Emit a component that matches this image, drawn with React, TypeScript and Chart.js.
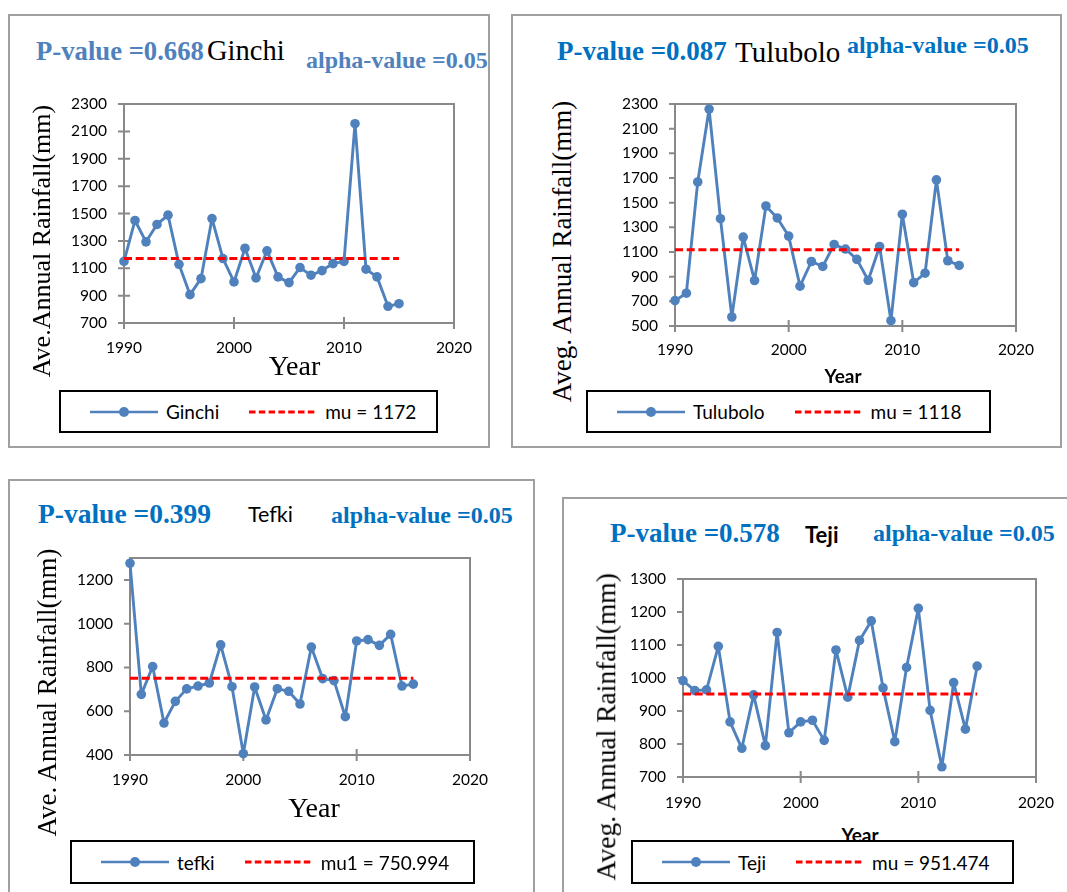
import React, { useEffect, useRef } from "react";
import { Chart, registerables } from "chart.js";

Chart.register(...registerables);

// ---- data -----------------------------------------------------------------

const YEARS = [
  1990, 1991, 1992, 1993, 1994, 1995, 1996, 1997, 1998, 1999, 2000, 2001, 2002,
  2003, 2004, 2005, 2006, 2007, 2008, 2009, 2010, 2011, 2012, 2013, 2014, 2015,
];

const GINCHI_RAIN = [
  1150, 1449, 1293, 1420, 1488, 1129, 907, 1024, 1463, 1171, 1000, 1246, 1029,
  1227, 1037, 995, 1105, 1049, 1083, 1134, 1150, 2156, 1093, 1037, 822, 841,
];
const TULUBOLO_RAIN = [
  706, 766, 1668, 2259, 1370, 573, 1221, 869, 1473, 1376, 1229, 823, 1023, 983,
  1161, 1124, 1040, 871, 1145, 543, 1406, 852, 928, 1685, 1029, 991,
];
const TEFKI_RAIN = [
  1276, 677, 804, 546, 645, 702, 715, 729, 903, 712, 406, 711, 560, 703, 691,
  633, 893, 749, 740, 575, 921, 927, 901, 951, 715, 724,
];
const TEJI_RAIN = [
  992, 962, 964, 1096, 867, 787, 949, 795, 1138, 834, 867, 872, 811, 1085, 942,
  1114, 1173, 970, 807, 1032, 1211, 902, 731, 986, 845, 1036,
];

const MU_GINCHI = 1172;
const MU_TULUBOLO = 1118;
const MU_TEFKI = 750.994;
const MU_TEJI = 951.474;

const X_TICKS = [1990, 2000, 2010, 2020];
const Y_TICKS_GINCHI = [700, 900, 1100, 1300, 1500, 1700, 1900, 2100, 2300];
const Y_TICKS_TULUBOLO = [500, 700, 900, 1100, 1300, 1500, 1700, 1900, 2100, 2300];
const Y_TICKS_TEFKI = [400, 600, 800, 1000, 1200];
const Y_TICKS_TEJI = [700, 800, 900, 1000, 1100, 1200, 1300];

// ---- styling --------------------------------------------------------------

const SERIF = '"Liberation Serif", "Times New Roman", Times, serif';
const SANS = 'Lato, "Open Sans", Arial, sans-serif';
const SERIES_BLUE = "#4f81bd";
const MEAN_RED = "#ff0000";
const AXIS_GRAY = "#898989";
const HEAD_BLUE_SOFT = "#4f81bd";
const HEAD_BLUE = "#0070c0";

const Y_AXIS_W = 70;
const PAD_T = 32;
const PAD_R = 48;
const X_AXIS_H = 45;
const TICK_FONT = 15.5;

type Station = {
  name: string;
  values: number[];
  mu: number;
  meanLabel: string;
  yMin: number;
  yMax: number;
  yTicks: number[];
};

type HeadText = {
  text: string;
  x: number;
  base: number;
  size: number;
  bold?: boolean;
  color?: string;
  sans?: boolean;
};

type Panel = {
  station: Station;
  box: [number, number, number, number];
  plot: { L: number; R: number; T: number; B: number };
  labelGap: number;
  yCross: boolean;
  headers: HeadText[];
  xTitle: { cx: number; cy: number; size: number; sans: boolean; bold: boolean };
  yTitle: { text: string; cx: number; cy: number; size: number };
  legend: [number, number, number, number];
};

const PANELS: Panel[] = [
  {
    station: {
      name: "Ginchi",
      values: GINCHI_RAIN,
      mu: MU_GINCHI,
      meanLabel: "mu = 1172",
      yMin: 700,
      yMax: 2300,
      yTicks: Y_TICKS_GINCHI,
    },
    box: [8, 14, 490, 448],
    plot: { L: 124, R: 454, T: 104, B: 323 },
    labelGap: 24.5,
    yCross: true,
    headers: [
      { text: "P-value =0.668", x: 36, base: 60, size: 26.7, bold: true, color: HEAD_BLUE_SOFT },
      { text: "Ginchi", x: 207, base: 61, size: 28.5 },
      { text: "alpha-value =0.05", x: 306, base: 68, size: 24, bold: true, color: HEAD_BLUE_SOFT },
    ],
    xTitle: { cx: 294.5, cy: 366, size: 28, sans: false, bold: false },
    yTitle: { text: "Ave.Annual Rainfall(mm)", cx: 42, cy: 241, size: 26 },
    legend: [59, 390, 438, 433],
  },
  {
    station: {
      name: "Tulubolo",
      values: TULUBOLO_RAIN,
      mu: MU_TULUBOLO,
      meanLabel: "mu = 1118",
      yMin: 500,
      yMax: 2300,
      yTicks: Y_TICKS_TULUBOLO,
    },
    box: [511, 14, 1062, 448],
    plot: { L: 675, R: 1016, T: 104, B: 326 },
    labelGap: 24,
    yCross: false,
    headers: [
      { text: "P-value =0.087", x: 557, base: 61, size: 27, bold: true, color: HEAD_BLUE },
      { text: "Tulubolo", x: 735, base: 62, size: 29 },
      { text: "alpha-value =0.05", x: 847, base: 53, size: 24, bold: true, color: HEAD_BLUE },
    ],
    xTitle: { cx: 843, cy: 375.5, size: 19, sans: true, bold: true },
    yTitle: { text: "Aveg. Annual Rainfall(mm)", cx: 562, cy: 251, size: 27 },
    legend: [586, 390, 991, 433],
  },
  {
    station: {
      name: "tefki",
      values: TEFKI_RAIN,
      mu: MU_TEFKI,
      meanLabel: "mu1 = 750.994",
      yMin: 400,
      yMax: 1300,
      yTicks: Y_TICKS_TEFKI,
    },
    box: [8, 479, 535, 905],
    plot: { L: 130, R: 470, T: 558, B: 755 },
    labelGap: 24.7,
    yCross: false,
    headers: [
      { text: "P-value =0.399", x: 38, base: 523, size: 27.5, bold: true, color: HEAD_BLUE },
      { text: "Tefki", x: 248, base: 523, size: 21.5, sans: true },
      { text: "alpha-value =0.05", x: 331, base: 523, size: 24, bold: true, color: HEAD_BLUE },
    ],
    xTitle: { cx: 314, cy: 807.5, size: 28, sans: false, bold: false },
    yTitle: { text: "Ave. Annual Rainfall(mm)", cx: 47, cy: 692, size: 27 },
    legend: [70, 840, 475, 884],
  },
  {
    station: {
      name: "Teji",
      values: TEJI_RAIN,
      mu: MU_TEJI,
      meanLabel: "mu = 951.474",
      yMin: 700,
      yMax: 1300,
      yTicks: Y_TICKS_TEJI,
    },
    box: [562, 497, 1080, 905],
    plot: { L: 683, R: 1036, T: 579, B: 777 },
    labelGap: 25.8,
    yCross: false,
    headers: [
      { text: "P-value =0.578", x: 610, base: 543, size: 27, bold: true, color: HEAD_BLUE },
      { text: "Teji", x: 805, base: 543, size: 22, sans: true, bold: true },
      { text: "alpha-value =0.05", x: 873, base: 541, size: 24, bold: true, color: HEAD_BLUE },
    ],
    xTitle: { cx: 860, cy: 834.5, size: 19, sans: true, bold: true },
    yTitle: { text: "Aveg. Annual Rainfall(mm)", cx: 606, cy: 727, size: 27.5 },
    legend: [631, 840, 1014, 884],
  },
];

// Plot frame with Excel-like tick marks, drawn from the chart's own scales.
const framePlugin = {
  id: "frame",
  beforeDatasetsDraw(chart: any, _args: unknown, opts: { yCross?: boolean }) {
    const { ctx, chartArea: a } = chart;
    const xs = chart.scales.x;
    const ys = chart.scales.y;
    ctx.save();
    ctx.strokeStyle = AXIS_GRAY;
    ctx.lineWidth = 2;
    ctx.strokeRect(a.left, a.top, a.right - a.left, a.bottom - a.top);
    ctx.beginPath();
    for (const t of xs.ticks) {
      const px = xs.getPixelForValue(t.value);
      ctx.moveTo(px, a.bottom - 6);
      ctx.lineTo(px, a.bottom + 6);
    }
    for (const t of ys.ticks) {
      const py = ys.getPixelForValue(t.value);
      ctx.moveTo(a.left - 6, py);
      ctx.lineTo(a.left + (opts && opts.yCross ? 6 : 0), py);
    }
    ctx.stroke();
    ctx.restore();
  },
};

function RainChart({ panel }: { panel: Panel }) {
  const ref = useRef<HTMLCanvasElement | null>(null);
  const { plot, station } = panel;
  const width = Y_AXIS_W + (plot.R - plot.L) + PAD_R;
  const height = PAD_T + (plot.B - plot.T) + X_AXIS_H;

  useEffect(() => {
    if (!ref.current) return;
    const lh = TICK_FONT * 1.2;
    const chart = new Chart(ref.current, {
      type: "line",
      data: {
        datasets: [
          {
            label: station.meanLabel,
            data: [
              { x: YEARS[0], y: station.mu },
              { x: YEARS[YEARS.length - 1], y: station.mu },
            ],
            borderColor: MEAN_RED,
            backgroundColor: MEAN_RED,
            borderWidth: 3,
            borderDash: [8, 3.7],
            pointRadius: 0,
            fill: false,
            clip: false,
          },
          {
            label: station.name,
            data: YEARS.map((x, i) => ({ x, y: station.values[i] })),
            borderColor: SERIES_BLUE,
            backgroundColor: SERIES_BLUE,
            pointBackgroundColor: SERIES_BLUE,
            pointBorderColor: SERIES_BLUE,
            borderWidth: 2.9,
            borderJoinStyle: "round",
            borderCapStyle: "round",
            pointRadius: 4.8,
            pointBorderWidth: 0,
            tension: 0,
            fill: false,
            clip: false,
          },
        ],
      },
      options: {
        responsive: false,
        animation: false,
        devicePixelRatio: 1,
        events: [],
        layout: { padding: { top: PAD_T, right: PAD_R, left: 0, bottom: 0 } },
        plugins: {
          legend: { display: false },
          tooltip: { enabled: false },
          title: { display: false },
          frame: { yCross: panel.yCross },
        } as any,
        scales: {
          x: {
            type: "linear",
            min: 1990,
            max: 2020,
            grid: { display: false, drawTicks: false },
            border: { display: false },
            ticks: {
              padding: panel.labelGap - lh / 2,
              color: "#000",
              font: { family: SANS, size: TICK_FONT, lineHeight: 1.2 },
              maxRotation: 0,
              autoSkip: false,
              callback: (v: any) => String(v),
            },
            afterBuildTicks: (s: any) => {
              s.ticks = X_TICKS.map((value) => ({ value }));
            },
            afterFit: (s: any) => {
              s.height = X_AXIS_H;
            },
          },
          y: {
            type: "linear",
            min: station.yMin,
            max: station.yMax,
            grid: { display: false, drawTicks: false },
            border: { display: false },
            ticks: {
              padding: 17,
              color: "#000",
              font: { family: SANS, size: TICK_FONT, lineHeight: 1.2 },
              autoSkip: false,
              callback: (v: any) => String(v),
            },
            afterBuildTicks: (s: any) => {
              s.ticks = station.yTicks.map((value) => ({ value }));
            },
            afterFit: (s: any) => {
              s.width = Y_AXIS_W;
            },
          },
        },
      } as any,
      plugins: [framePlugin as any],
    });
    return () => chart.destroy();
  }, []);

  return (
    <canvas
      ref={ref}
      width={width}
      height={height}
      style={{
        position: "absolute",
        left: plot.L - Y_AXIS_W,
        top: plot.T - PAD_T,
        width,
        height,
        zIndex: 2,
      }}
    />
  );
}

function Head({ t }: { t: HeadText }) {
  const k = t.sans ? 0.87 : 0.8375;
  return (
    <div
      style={{
        position: "absolute",
        left: t.x,
        top: t.base - k * t.size,
        fontFamily: t.sans ? SANS : SERIF,
        fontSize: t.size,
        lineHeight: `${t.size}px`,
        fontWeight: t.bold ? 700 : 400,
        color: t.color || "#000",
        whiteSpace: "nowrap",
        zIndex: 2,
      }}
    >
      {t.text}
    </div>
  );
}

function Legend({ panel }: { panel: Panel }) {
  const [x1, y1, x2, y2] = panel.legend;
  return (
    <div
      style={{
        position: "absolute",
        left: x1,
        top: y1,
        width: x2 - x1,
        height: y2 - y1,
        boxSizing: "border-box",
        border: "2px solid #000",
        background: "#fff",
        display: "flex",
        alignItems: "center",
        paddingLeft: 29,
        fontFamily: SANS,
        fontSize: 19,
        color: "#000",
        whiteSpace: "nowrap",
        zIndex: 4,
      }}
    >
      <svg width={68} height={14} style={{ display: "block" }}>
        <line x1={0} y1={7} x2={68} y2={7} stroke={SERIES_BLUE} strokeWidth={2.5} />
        <circle cx={34} cy={7} r={5} fill={SERIES_BLUE} />
      </svg>
      <span style={{ marginLeft: 8 }}>{panel.station.name}</span>
      <svg width={68} height={14} style={{ display: "block", marginLeft: 30 }}>
        <line
          x1={0}
          y1={7}
          x2={68}
          y2={7}
          stroke={MEAN_RED}
          strokeWidth={3}
          strokeDasharray="6.5 3.3"
        />
      </svg>
      <span style={{ marginLeft: 8 }}>{panel.station.meanLabel}</span>
    </div>
  );
}

function StationPanel({ panel }: { panel: Panel }) {
  const [bx1, by1, bx2, by2] = panel.box;
  const xt = panel.xTitle;
  const yt = panel.yTitle;
  return (
    <>
      <div
        style={{
          position: "absolute",
          left: bx1,
          top: by1,
          width: bx2 - bx1,
          height: by2 - by1,
          boxSizing: "border-box",
          border: "2px solid #a0a0a0",
          background: "#fff",
          zIndex: 1,
        }}
      />
      {panel.headers.map((t, i) => (
        <Head key={i} t={t} />
      ))}
      <RainChart panel={panel} />
      <div
        style={{
          position: "absolute",
          left: xt.cx - 100,
          top: xt.cy - xt.size / 2,
          width: 200,
          textAlign: "center",
          fontFamily: xt.sans ? SANS : SERIF,
          fontWeight: xt.bold ? 700 : 400,
          fontSize: xt.size,
          lineHeight: `${xt.size}px`,
          color: "#000",
          zIndex: 3,
        }}
      >
        Year
      </div>
      <div
        style={{
          position: "absolute",
          left: yt.cx - 200,
          top: yt.cy - yt.size / 2,
          width: 400,
          height: yt.size,
          textAlign: "center",
          fontFamily: SERIF,
          fontSize: yt.size,
          lineHeight: `${yt.size}px`,
          color: "#000",
          whiteSpace: "nowrap",
          transform: "rotate(-90deg)",
          transformOrigin: "50% 50%",
          zIndex: 3,
        }}
      >
        {yt.text}
      </div>
      <Legend panel={panel} />
    </>
  );
}

export default function App() {
  return (
    <div
      style={{
        position: "absolute",
        left: 0,
        top: 0,
        width: 1067,
        height: 892,
        overflow: "hidden",
        background: "#fff",
      }}
    >
      {PANELS.map((p, i) => (
        <StationPanel key={i} panel={p} />
      ))}
    </div>
  );
}
